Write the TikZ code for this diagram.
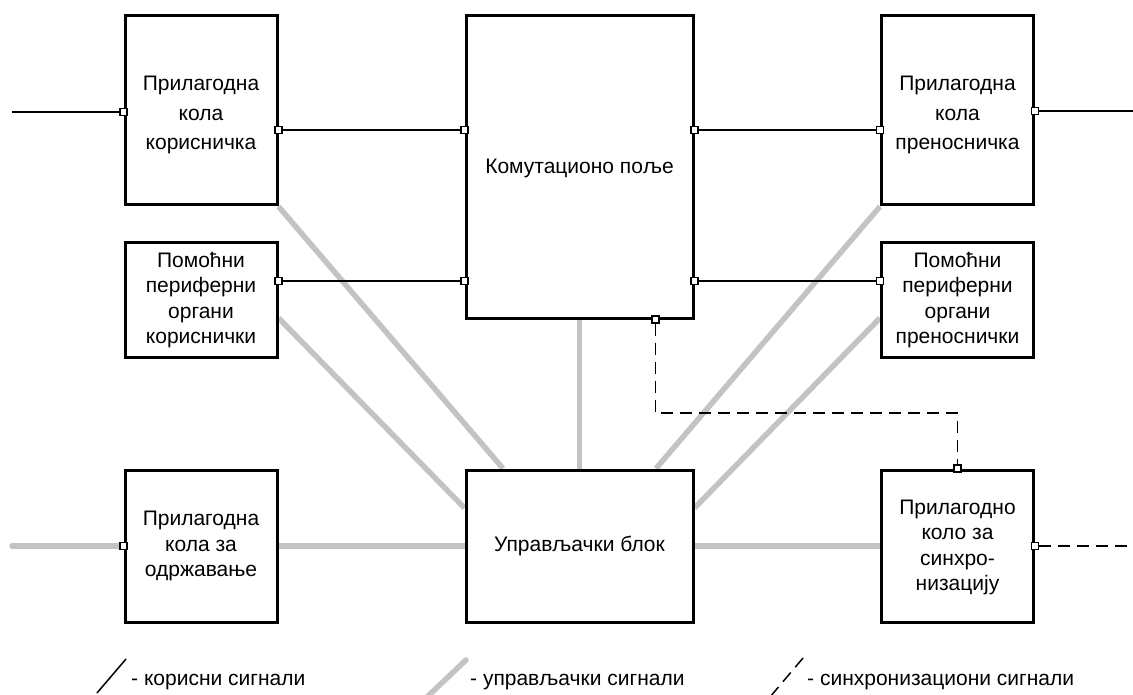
\documentclass[tikz,border=0pt]{standalone}
\usepackage{fontspec}
\setmainfont{Liberation Sans}
\usetikzlibrary{backgrounds,calc}
\definecolor{ctlgrey}{RGB}{195,195,195}
\begin{document}
\begin{tikzpicture}[x=1pt,y=-1pt,
  box/.style={draw, line width=3pt, fill=white, inner sep=0pt, align=center},
  wide/.style={font=\fontsize{21}{29.7}\selectfont, align=center, inner sep=0pt},
  tight/.style={font=\fontsize{21}{25.5}\selectfont},
  port/.style={draw, line width=1.2pt, fill=white, minimum size=7pt, inner sep=0pt},
  sig/.style={line width=1.5pt},
  ctl/.style={line width=5.5pt, draw=ctlgrey},
  syncline/.style={line width=1.5pt, dash pattern=on 12pt off 7pt},
  lbl/.style={font=\fontsize{21}{25}\selectfont, anchor=base west, inner sep=0pt}]
\useasboundingbox (0,0) rectangle (1133,695);

% boxes
\node[box, minimum width=152pt, minimum height=189pt] (tl) at (201,110.5) {};
\node[wide] (tlt) at ([yshift=-4.5pt]tl.center) {Прилагодна\\кола\\корисничка};
\node[box, minimum width=227pt, minimum height=302pt] (kom) at (579.5,167) {};
\node[wide] (komt) at ([yshift=-1pt]kom.center) {Комутационо поље};
\node[box, minimum width=152pt, minimum height=189pt] (tr) at (957.5,110.5) {};
\node[wide] (trt) at ([yshift=-4.5pt]tr.center) {Прилагодна\\кола\\преносничка};
\node[box, tight, minimum width=152pt, minimum height=114pt] (lmid) at (201,300) {Помоћни\\периферни\\органи\\кориснички};
\node[box, tight, minimum width=152pt, minimum height=114pt] (rmid) at (957.5,300) {Помоћни\\периферни\\органи\\преноснички};
\node[box, tight, minimum width=152pt, minimum height=152pt] (bl) at (201,546) {Прилагодна\\кола за\\одржавање};
\node[box, tight, minimum width=227pt, minimum height=152pt] (ctrl) at (579.5,546) {Управљачки блок};
\node[box, minimum width=152pt, minimum height=152pt] (syn) at (957.5,546) {};
\node[tight, align=center, inner sep=0pt] (synt) at ([yshift=-1.5pt]syn.center) {Прилагодно\\коло за\\синхро-\\низацију};

% ports
\node[port] (pA) at (tl.west |- 0,112) {};
\node[port] (pB) at (tl.east |- 0,130) {};
\node[port] (pC) at (kom.west |- 0,130) {};
\node[port] (pD) at (kom.west |- 0,281) {};
\node[port] (pE) at (kom.east |- 0,130) {};
\node[port] (pF) at (kom.east |- 0,281) {};
\node[port] (pG) at (kom.south -| 655.5,0) {};
\node[port] (pH) at (tr.west |- 0,130) {};
\node[port] (pI) at (tr.east |- 0,111) {};
\node[port] (pJ) at (lmid.east |- 0,281) {};
\node[port] (pK) at (rmid.west |- 0,281) {};
\node[port] (pL) at (bl.west) {};
\node[port] (pM) at (syn.north) {};
\node[port] (pN) at (syn.east) {};

% free ends
\coordinate (inA) at (12,112);
\coordinate (outI) at (1133,111);
\coordinate (inL) at (12,546);
\coordinate (outN) at (1133,546);

\begin{scope}[on background layer]
  % control signals
  \draw[ctl, line cap=round] (inL) -- (bl.west);
  \draw[ctl] (bl.east) -- (ctrl.west);
  \draw[ctl] (ctrl.east) -- (syn.west);
  \draw[ctl] (kom.south) -- (ctrl.north);
  \draw[ctl] (tl.south east) -- ([xshift=-76.5pt]ctrl.north);
  \draw[ctl] (tr.south west) -- ([xshift=76.5pt]ctrl.north);
  \draw[ctl] (lmid.east |- 0,318) -- (ctrl.west |- 0,508);
  \draw[ctl] (rmid.west |- 0,318) -- (ctrl.east |- 0,508);
  % user signals
  \draw[sig] (inA) -- (pA);
  \draw[sig] (pB) -- (pC);
  \draw[sig] (pJ) -- (pD);
  \draw[sig] (pE) -- (pH);
  \draw[sig] (pF) -- (pK);
  \draw[sig] (pI) -- (outI);
  % sync signals
  \draw[syncline] (pG) -- (pG |- 0,413) -| (pM);
  \draw[syncline] (pN) -- (outN);
\end{scope}

% legend
\draw[sig] (97,693) -- (126,659);
\node[lbl] (l1) at (131,685) {- корисни сигнали};
\draw[ctl, line cap=round] (426,698) -- (466,660);
\node[lbl] (l2) at (470,685) {- управљачки сигнали};
\draw[syncline] (803,658) -- (770,697);
\node[lbl] (l3) at (807,685) {- синхронизациони сигнали};
\end{tikzpicture}
\end{document}
